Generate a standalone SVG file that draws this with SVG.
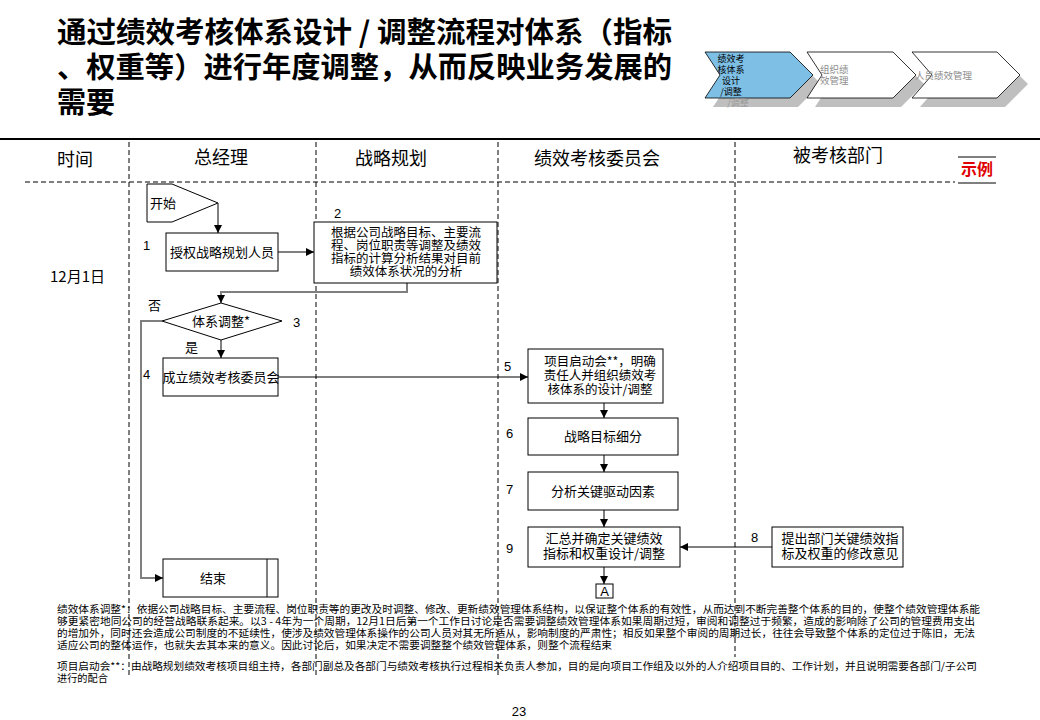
<svg xmlns="http://www.w3.org/2000/svg" width="1040" height="720" viewBox="0 0 1040 720">
<style>
text{font-family:"Noto Sans CJK SC","Liberation Sans",sans-serif;fill:#000}
.title{font-size:29px;font-weight:bold}
.hdr{font-size:18px;text-anchor:middle}
.box{fill:#fff;stroke:#000;stroke-width:1}
.t{font-size:13px;text-anchor:middle}
.t2{font-size:12.5px;text-anchor:middle}
.num{font-family:"Liberation Sans",sans-serif;font-size:13px}
.lane{stroke:#000;stroke-width:1;stroke-dasharray:5 3;fill:none}
.con{stroke:#000;stroke-width:1;fill:none}
.gcon{stroke:#7f7f7f;stroke-width:2;fill:none}
.note{font-size:10.2px}
.chv{stroke:#000;stroke-width:0.8}
.shd{fill:#bfbfbf}
.ct{font-size:9px;text-anchor:middle}
.cg{font-size:9.5px;fill:#8c8c8c}
</style>
<defs>
<marker id="ah" markerWidth="8" markerHeight="8" refX="8" refY="4" orient="auto" markerUnits="userSpaceOnUse">
<path d="M0,0 L8,4 L0,8 z" fill="#000"/>
</marker>
</defs>
<rect width="1040" height="720" fill="#fff"/>

<g id="title">
<text class="title"><tspan x="57" y="43" textLength="615" lengthAdjust="spacingAndGlyphs">通过绩效考核体系设计 / 调整流程对体系（指标</tspan><tspan x="57" y="78" textLength="615" lengthAdjust="spacingAndGlyphs">、权重等）进行年度调整，从而反映业务发展的</tspan><tspan x="57" y="113">需要</tspan></text>
</g>

<g id="chevrons">
<polygon class="shd" points="713,61 798,61 821,84 798,107 713,107 728,84"/>
<polygon class="chv" fill="#7dbfe5" points="705,52 790,52 813,75 790,98 705,98 720,75"/>
<text class="ct"><tspan x="731" y="62">绩效考</tspan><tspan x="731" y="73">核体系</tspan><tspan x="731" y="84">设计</tspan><tspan x="731" y="95">/调整</tspan></text>
<text class="ct" x="738" y="106" style="fill:#999">/调整</text>
<polygon class="shd" points="815,61 901,61 924,84 901,107 815,107 830,84"/>
<polygon class="chv" fill="#fff" points="807,52 893,52 916,75 893,98 807,98 822,75"/>
<text class="cg"><tspan x="820" y="73">组织绩</tspan><tspan x="820" y="84">效管理</tspan></text>
<polygon class="shd" points="920,61 1005,61 1028,84 1005,107 920,107 940,84"/>
<polygon class="chv" fill="#fff" points="912,52 997,52 1020,75 997,98 912,98 932,75"/>
<text class="cg" x="915" y="79">人员绩效管理</text>
</g>

<g id="frame">
<line x1="0" y1="139" x2="1040" y2="139" stroke="#000" stroke-width="2"/>
<line class="lane" x1="25" y1="182" x2="955" y2="182"/>
<line class="lane" x1="129" y1="142" x2="129" y2="675"/>
<line class="lane" x1="316" y1="142" x2="316" y2="675"/>
<line class="lane" x1="498" y1="142" x2="498" y2="675"/>
<line class="lane" x1="735" y1="142" x2="735" y2="657"/>
<text class="hdr" x="75" y="166">时间</text>
<text class="hdr" x="221" y="164">总经理</text>
<text class="hdr" x="391" y="165">战略规划</text>
<text class="hdr" x="597" y="165">绩效考核委员会</text>
<text class="hdr" x="838" y="162">被考核部门</text>
<line x1="958" y1="157" x2="996" y2="157" stroke="#000" stroke-width="1"/>
<text x="977" y="175" style="font-size:16px;fill:#e00000;text-anchor:middle;font-weight:bold">示例</text>
<line x1="958" y1="183" x2="996" y2="183" stroke="#000" stroke-width="1"/>
<text x="50" y="282" style="font-size:15px">12月1日</text>
</g>

<g id="connectors">
<line class="con" x1="218" y1="203" x2="218" y2="233" marker-end="url(#ah)"/>
<line class="con" x1="278" y1="252" x2="314" y2="252" marker-end="url(#ah)"/>
<polyline class="gcon" points="407,283 407,292 221,292 221,303" marker-end="url(#ah)"/>
<line class="con" x1="221" y1="340" x2="221" y2="358" marker-end="url(#ah)"/>
<polyline class="gcon" points="162,321 141,321 141,578 163,578" marker-end="url(#ah)"/>
<line class="con" x1="278" y1="377" x2="528" y2="377" marker-end="url(#ah)"/>
<line class="con" x1="604" y1="403" x2="604" y2="418" marker-end="url(#ah)"/>
<line class="con" x1="604" y1="455" x2="604" y2="472" marker-end="url(#ah)"/>
<line class="con" x1="604" y1="510" x2="604" y2="527" marker-end="url(#ah)"/>
<line class="con" x1="772" y1="547" x2="680" y2="547" marker-end="url(#ah)"/>
<line class="con" x1="604" y1="567" x2="604" y2="584" marker-end="url(#ah)"/>
</g>

<g id="start">
<polygon class="box" points="147,184 172,184 218,203 172,222 147,222"/>
<text x="150" y="208" style="font-size:13px">开始</text>
</g>
<g id="n1">
<rect class="box" x="166" y="233" width="112" height="38"/>
<text class="t" x="222" y="257">授权战略规划人员</text>
<text class="num" x="143" y="250">1</text>
</g>
<g id="n2">
<rect class="box" x="314" y="222" width="183" height="61"/>
<text class="t2"><tspan x="406" y="237">根据公司战略目标、主要流</tspan><tspan x="406" y="250">程、岗位职责等调整及绩效</tspan><tspan x="406" y="263">指标的计算分析结果对目前</tspan><tspan x="406" y="276">绩效体系状况的分析</tspan></text>
<text class="num" x="334" y="218">2</text>
</g>
<g id="n3">
<polygon class="box" points="221,303 282,321 221,340 162,321"/>
<text class="t" x="221" y="326">体系调整*</text>
<text class="num" x="293" y="327">3</text>
<text x="148" y="310" style="font-size:13px">否</text>
<text x="185" y="352" style="font-size:13px">是</text>
</g>
<g id="n4">
<rect class="box" x="163" y="358" width="115" height="38"/>
<text class="t" x="221" y="382">成立绩效考核委员会</text>
<text class="num" x="143" y="379">4</text>
</g>
<g id="n5">
<rect class="box" x="528" y="349" width="135" height="54"/>
<text class="t2"><tspan x="600" y="366">项目启动会**，明确</tspan><tspan x="600" y="380">责任人并组织绩效考</tspan><tspan x="600" y="394">核体系的设计/调整</tspan></text>
<text class="num" x="504" y="371">5</text>
</g>
<g id="n6">
<rect class="box" x="528" y="418" width="150" height="37"/>
<text class="t" x="603" y="441">战略目标细分</text>
<text class="num" x="506" y="438">6</text>
</g>
<g id="n7">
<rect class="box" x="528" y="472" width="150" height="38"/>
<text class="t" x="603" y="496">分析关键驱动因素</text>
<text class="num" x="506" y="494">7</text>
</g>
<g id="n9">
<rect class="box" x="528" y="527" width="152" height="40"/>
<text class="t"><tspan x="604" y="543">汇总并确定关键绩效</tspan><tspan x="604" y="558">指标和权重设计/调整</tspan></text>
<text class="num" x="506" y="553">9</text>
</g>
<g id="n8">
<rect class="box" x="772" y="527" width="131" height="40"/>
<text class="t"><tspan x="840" y="543">提出部门关键绩效指</tspan><tspan x="840" y="558">标及权重的修改意见</tspan></text>
<text class="num" x="751" y="542">8</text>
</g>
<g id="nA">
<rect class="box" x="596" y="584" width="17" height="14"/>
<text class="num" x="604.5" y="596" text-anchor="middle">A</text>
</g>
<g id="end">
<rect class="box" x="163" y="559" width="115" height="38"/>
<line x1="267" y1="559" x2="267" y2="597" stroke="#000" stroke-width="1"/>
<text class="t" x="213" y="583">结束</text>
</g>

<g id="notes">
<text class="note"><tspan x="57" y="613" textLength="923" lengthAdjust="spacingAndGlyphs">绩效体系调整*：依据公司战略目标、主要流程、岗位职责等的更改及时调整、修改、更新绩效管理体系结构，以保证整个体系的有效性，从而达到不断完善整个体系的目的，使整个绩效管理体系能</tspan><tspan x="57" y="625" textLength="918" lengthAdjust="spacingAndGlyphs">够更紧密地同公司的经营战略联系起来。以3 - 4年为一个周期，12月1日后第一个工作日讨论是否需要调整绩效管理体系如果周期过短，审阅和调整过于频繁，造成的影响除了公司的管理费用支出</tspan><tspan x="57" y="637" textLength="918" lengthAdjust="spacingAndGlyphs">的增加外，同时还会造成公司制度的不延续性，使涉及绩效管理体系操作的公司人员对其无所适从，影响制度的严肃性；相反如果整个审阅的周期过长，往往会导致整个体系的定位过于陈旧，无法</tspan><tspan x="57" y="649" textLength="555" lengthAdjust="spacingAndGlyphs">适应公司的整体运作，也就失去其本来的意义。因此讨论后，如果决定不需要调整整个绩效管理体系，则整个流程结束</tspan></text>
<text class="note"><tspan x="57" y="670" textLength="920" lengthAdjust="spacingAndGlyphs">项目启动会**：由战略规划绩效考核项目组主持，各部门副总及各部门与绩效考核执行过程相关负责人参加，目的是向项目工作组及以外的人介绍项目目的、工作计划，并且说明需要各部门/子公司</tspan><tspan x="57" y="682">进行的配合</tspan></text>
</g>

<text x="519" y="716" style="font-family:'Liberation Sans',sans-serif;font-size:13px;text-anchor:middle">23</text>
</svg>
